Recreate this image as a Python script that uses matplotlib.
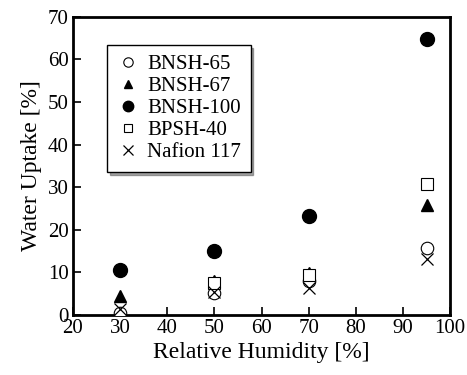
import matplotlib
matplotlib.use("Agg")
import matplotlib.pyplot as plt

plt.rcParams['font.family'] = ['Liberation Serif', 'DejaVu Serif']

# relative humidity
rh = [30, 50, 70, 95]

# water uptake per membrane
bnsh65 = [0.5, 5.2, 8.0, 15.7]
bnsh67 = [4.5, 8.0, 9.9, 25.8]
bnsh100 = [10.6, 15.0, 23.3, 64.8]
bpsh40_rh = [50, 70, 95]
bpsh40 = [7.5, 9.4, 30.8]
nafion = [1.5, 5.5, 6.3, 13.2]

fig = plt.figure(figsize=(4.67, 3.75), dpi=100)
ax = fig.add_axes([0.156, 0.16, 0.808, 0.795])

ax.plot(rh, bnsh65, 'o', mfc='white', mec='black', ms=9, mew=0.8, label='BNSH-65', zorder=3)
ax.plot(rh, bnsh67, '^', color='black', ms=8, label='BNSH-67', zorder=3)
ax.plot(rh, bnsh100, 'o', color='black', ms=10, label='BNSH-100', zorder=3)
ax.plot(bpsh40_rh, bpsh40, 's', mfc='white', mec='black', ms=8.5, mew=0.8, label='BPSH-40', zorder=3)
ax.plot(rh, nafion, 'x', color='black', ms=9, mew=0.9, label='Nafion 117', zorder=4)

ax.set_xlim(20, 100)
ax.set_ylim(0, 70)
ax.set_xticks(range(20, 101, 10))
ax.set_yticks(range(0, 71, 10))
ax.tick_params(direction='in', length=6, width=1.2, labelsize=15, pad=3)
for s in ax.spines.values():
    s.set_linewidth(2)

ax.set_xlabel('Relative Humidity [%]', fontsize=17, labelpad=3)
ax.set_ylabel('Water Uptake [%]', fontsize=17, labelpad=4)

leg = ax.legend(loc='upper left', bbox_to_anchor=(0.09, 0.905), fontsize=15,
                frameon=True, fancybox=False, shadow=True, handletextpad=0.4,
                labelspacing=0.12, borderpad=0.45, handlelength=1.1, borderaxespad=0,
                markerscale=0.75)
leg.get_frame().set_edgecolor('black')
leg.get_frame().set_linewidth(1.0)

fig.savefig('out.png', dpi=100)
